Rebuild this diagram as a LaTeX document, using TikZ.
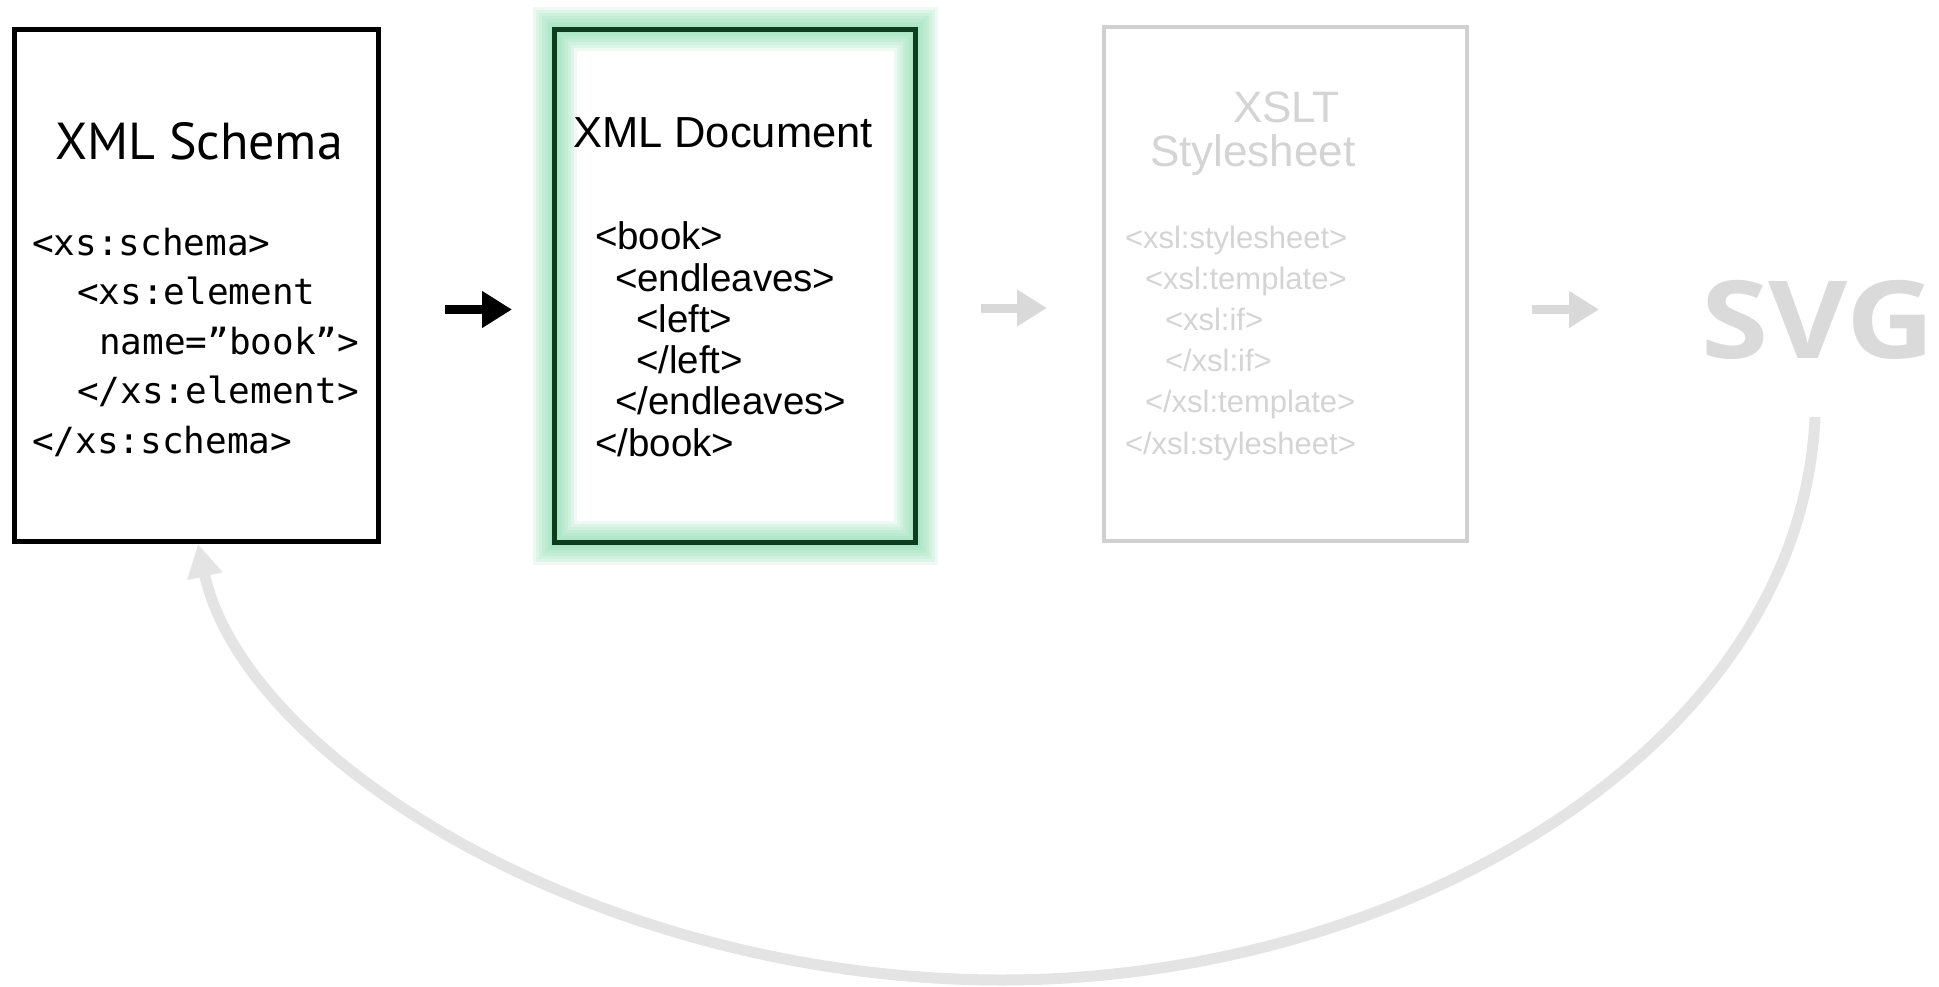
\documentclass[tikz,border=0pt]{standalone}
\usepackage{fontspec}
\setmainfont{Liberation Sans}
\newfontfamily\gillfont{PT Sans}
\newfontfamily\codefont{DejaVu Sans Mono}
\newfontfamily\svgfont{Open Sans}
\usetikzlibrary{arrows.meta}
\definecolor{docgreen}{HTML}{0B3D1E}
\definecolor{glowgreen}{HTML}{7FD8A6}
\definecolor{fadegray}{HTML}{D0D0D0}
\definecolor{fadetext}{HTML}{D4D4D4}
\definecolor{arrowgray}{HTML}{D9D9D9}
\definecolor{curvegray}{HTML}{E4E4E4}
\definecolor{svggray}{HTML}{DADADA}
\begin{document}
\begin{tikzpicture}[x=1pt,y=-1pt,
  every node/.style={inner sep=0pt,outer sep=0pt},
  schemabox/.style={draw=black,line width=5pt,minimum width=364pt,minimum height=512pt},
  docbox/.style={draw=docgreen,line width=5pt,minimum width=361pt,minimum height=513pt},
  xsltbox/.style={draw=fadegray,line width=4pt,minimum width=363pt,minimum height=514pt},
  schematitle/.style={anchor=base,font=\gillfont\fontsize{52}{56}\selectfont},
  schemacode/.style={anchor=base west,font=\codefont\fontsize{36}{40}\selectfont},
  doctitle/.style={anchor=base west,font=\fontsize{43.5}{48}\selectfont},
  doccode/.style={anchor=base west,font=\fontsize{38.5}{42}\selectfont},
  xslttitle/.style={anchor=base west,text=fadetext,font=\fontsize{44}{46}\selectfont},
  xsltcode/.style={anchor=base west,text=fadetext,font=\fontsize{31}{34}\selectfont},
  svglabel/.style={anchor=base west,text=svggray,font=\svgfont\bfseries\fontsize{108}{112}\selectfont},
  blockarrow/.style={line width=9pt,-{Triangle[length=30pt,width=35pt]}},
  backarrow/.style={draw=curvegray,line width=11pt,-{Triangle[length=33pt,width=34pt]}}
]
\useasboundingbox (0,0) rectangle (1939,987);

% boxes
\node[schemabox] (schema) at (196.5,285.5) {};
\foreach \w in {44,38,32,26,20,14,8}{
  \draw[glowgreen,line width=\w pt,opacity=0.14] (554.5,29.5) rectangle (915.5,542.5);
}
\node[docbox] (doc) at (735,286) {};
\node[xsltbox] (xslt) at (1285.5,284) {};

% XML Schema text
\node[schematitle] (stitle) at (199,160) {XML Schema};
\node[schemacode] (s1) at (32,255) {<xs:schema>};
\node[schemacode] (s2) at (77,304.5) {<xs:element};
\node[schemacode] (s3) at (99,354) {name=”book”>};
\node[schemacode] (s4) at (77,403.5) {</xs:element>};
\node[schemacode] (s5) at (32,453) {</xs:schema>};

% XML Document text
\node[doctitle] (dtitle) at (573,148) {XML Document};
\node[doccode] (d1) at (595,250) {<book>};
\node[doccode] (d2) at (615,291.2) {<endleaves>};
\node[doccode] (d3) at (636,332.4) {<left>};
\node[doccode] (d4) at (636,373.6) {</left>};
\node[doccode] (d5) at (615,414.8) {</endleaves>};
\node[doccode] (d6) at (595,456) {</book>};

% XSLT text
\node[xslttitle] (xt1) at (1233,123) {XSLT};
\node[xslttitle] (xt2) at (1150,167) {Stylesheet};
\node[xsltcode] (x1) at (1125,248) {<xsl:stylesheet>};
\node[xsltcode] (x2) at (1145,289.2) {<xsl:template>};
\node[xsltcode] (x3) at (1165,330.4) {<xsl:if>};
\node[xsltcode] (x4) at (1165,371.6) {</xsl:if>};
\node[xsltcode] (x5) at (1145,412.8) {</xsl:template>};
\node[xsltcode] (x6) at (1125,454) {</xsl:stylesheet>};

% SVG
\node[svglabel] (svg) at (1701,358) {\scalebox{1.13}[1]{SVG}};

% arrows
\coordinate (a1s) at (445,309.5);
\coordinate (a1e) at (512,309.5);
\coordinate (a2s) at (981,308);
\coordinate (a2e) at (1047,308);
\coordinate (a3s) at (1532,309.5);
\coordinate (a3e) at (1599,309.5);
\draw[blockarrow,black] (a1s) -- (a1e);
\draw[blockarrow,arrowgray] (a2s) -- (a2e);
\draw[blockarrow,arrowgray] (a3s) -- (a3e);

\coordinate (cstart) at (1815,417);
\coordinate (cbottom) at (1002,980);
\coordinate (ctip) at (198,544);
\draw[backarrow] (cstart) .. controls (1800,750) and (1400,980) .. (cbottom)
  .. controls (600,980) and (245,760) .. (ctip);
\end{tikzpicture}
\end{document}
